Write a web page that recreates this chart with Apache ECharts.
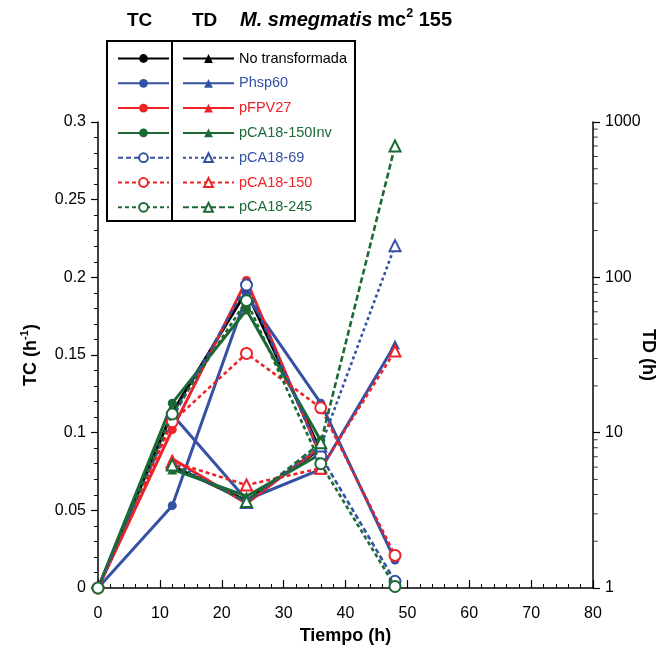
<!DOCTYPE html>
<html>
<head>
<meta charset="utf-8">
<script src="https://cdn.jsdelivr.net/npm/echarts@6/dist/echarts.min.js"></script>
<style>
html, body { margin: 0; padding: 0; background: #fff; }
#chart { width: 668px; height: 648px; }
</style>
</head>
<body>
<div id="chart"></div>
<script>
// Tiempo de muestreo (h)
const hours = [0, 12, 24, 36, 48];

const strains = ['No transformada', 'Phsp60', 'pFPV27', 'pCA18-150Inv', 'pCA18-69', 'pCA18-150', 'pCA18-245'];

// Tasa de crecimiento, TC (h^-1)
const tcNoTransformada = [0, 0.113, 0.191, 0.088, null];
const tcPhsp60         = [0, 0.053, 0.188, 0.119, 0.018];
const tcPFPV27         = [0, 0.102, 0.198, 0.085, null];
const tcPCA18_150Inv   = [0, 0.119, 0.179, 0.095, null];
const tcPCA18_69       = [0, 0.109, 0.195, 0.085, 0.0043];
const tcPCA18_150      = [0, 0.107, 0.151, 0.116, 0.021];
const tcPCA18_245      = [0, 0.112, 0.185, 0.080, 0.001];

// Tiempo de duplicación, TD (h)
const tdNoTransformada = [null, 6.1, 3.65, 7.9, null];
const tdPhsp60         = [null, 13.1, 3.7, 5.8, 37];
const tdPFPV27         = [null, 6.8, 3.5, 8.1, null];
const tdPCA18_150Inv   = [null, 5.8, 3.9, 7.3, null];
const tdPCA18_69       = [null, 6.4, 3.55, 8.2, 160];
const tdPCA18_150      = [null, 6.5, 4.6, 5.9, 33.5];
const tdPCA18_245      = [null, 6.2, 3.6, 8.6, 700];

// Ejes
const xTickLabels = [0, 10, 20, 30, 40, 50, 60, 70, 80];
const tcTickLabels = [0, 0.05, 0.1, 0.15, 0.2, 0.25, 0.3];
const tdTickLabels = [1, 10, 100, 1000];
const tdMinorTicks = [2, 3, 4, 5, 6, 7, 8, 9, 20, 30, 40, 50, 60, 70, 80, 90, 200, 300, 400, 500, 600, 700, 800, 900];

const tcData = [tcNoTransformada, tcPhsp60, tcPFPV27, tcPCA18_150Inv, tcPCA18_69, tcPCA18_150, tcPCA18_245];
const tdData = [tdNoTransformada, tdPhsp60, tdPFPV27, tdPCA18_150Inv, tdPCA18_69, tdPCA18_150, tdPCA18_245];

const BLACK = '#000000';
const BLUE = '#3551a4';
const RED = '#ee2227';
const GREEN = '#1b6a36';
const FONT = '"Liberation Sans", Arial, Helvetica, sans-serif';

const looks = [
  { color: BLACK, filled: true,  tcDash: 'solid', tdDash: 'solid' },
  { color: BLUE,  filled: true,  tcDash: 'solid', tdDash: 'solid' },
  { color: RED,   filled: true,  tcDash: 'solid', tdDash: 'solid' },
  { color: GREEN, filled: true,  tcDash: 'solid', tdDash: 'solid' },
  { color: BLUE,  filled: false, tcDash: [5, 3],  tdDash: [3, 3] },
  { color: RED,   filled: false, tcDash: [4, 3],  tdDash: [4, 3] },
  { color: GREEN, filled: false, tcDash: [4, 3],  tdDash: [6, 3] }
];

function pairs(values) {
  return hours.map((h, i) => [h, values[i] == null ? '-' : values[i]]);
}

const tcNames = strains.map(s => 'TC ' + s);

const series = [];
strains.forEach((name, k) => {
  const lk = looks[k];
  series.push({
    name: tcNames[k],
    type: 'line',
    xAxisIndex: 0,
    yAxisIndex: 0,
    data: pairs(tcData[k]),
    symbol: lk.filled ? 'circle' : 'emptyCircle',
    symbolSize: lk.filled ? 9 : 11,
    showAllSymbol: true,
    itemStyle: { color: lk.color, borderWidth: lk.filled ? 0 : 1.2 },
    lineStyle: { color: lk.color, width: lk.filled ? 3 : 2.6, type: lk.tcDash },
    z: 3 + k
  });
  series.push({
    name: name,
    type: 'line',
    xAxisIndex: 0,
    yAxisIndex: 1,
    data: pairs(tdData[k]),
    symbol: lk.filled ? 'triangle' : 'emptyTriangle',
    symbolSize: lk.filled ? 10 : 11,
    showAllSymbol: true,
    itemStyle: { color: lk.color, borderWidth: lk.filled ? 0 : 1.2 },
    lineStyle: { color: lk.color, width: lk.filled ? 3 : 2.6, type: lk.tdDash },
    z: 3 + k
  });
});

// marcas menores del eje logarítmico TD (2–9 de cada década), sobre el borde derecho
const xEdge = xTickLabels[xTickLabels.length - 1];
series.push({
  name: 'marcas TD',
  type: 'scatter',
  xAxisIndex: 0,
  yAxisIndex: 1,
  data: tdMinorTicks.map(v => [xEdge, v]),
  symbol: 'rect',
  symbolSize: [4, 1],
  symbolOffset: [2.7, 0],
  clip: false,
  silent: true,
  itemStyle: { color: '#000' },
  z: 2
});

const textColors = [BLACK, BLUE, RED, GREEN, BLUE, RED, GREEN];

const legendCommon = {
  orient: 'vertical',
  top: 51,
  itemWidth: 51,
  itemHeight: 11,
  itemGap: 9.8,
  padding: 0,
  selectedMode: false,
  textStyle: { fontSize: 14.5, fontFamily: FONT, color: '#000' }
};

const chart = echarts.init(document.getElementById('chart'), null, { renderer: 'canvas' });

chart.setOption({
  animation: false,
  backgroundColor: '#fff',
  textStyle: { fontFamily: FONT },
  title: [
    { text: 'TC', left: 127, top: 11, padding: 0,
      textStyle: { fontSize: 19, fontWeight: 'bold', color: '#000', fontFamily: FONT } },
    { text: 'TD', left: 192, top: 11, padding: 0,
      textStyle: { fontSize: 19, fontWeight: 'bold', color: '#000', fontFamily: FONT } },
    { text: '{i|M. smegmatis} {b|mc}{s|2}{b| 155}', left: 240, top: 7, padding: 0,
      textStyle: {
        fontFamily: FONT,
        rich: {
          i: { fontSize: 20, fontWeight: 'bold', fontStyle: 'italic', color: '#000', lineHeight: 27, fontFamily: FONT },
          b: { fontSize: 20, fontWeight: 'bold', color: '#000', lineHeight: 27, fontFamily: FONT },
          s: { fontSize: 12.5, fontWeight: 'bold', color: '#000', lineHeight: 16, verticalAlign: 'top', fontFamily: FONT }
        }
      } }
  ],
  legend: [
    Object.assign({}, legendCommon, {
      left: 117,
      data: tcNames.map(n => ({ name: n })),
      formatter: () => ' '
    }),
    Object.assign({}, legendCommon, {
      left: 182,
      data: strains.map((n, k) => ({ name: n, textStyle: { color: textColors[k] } }))
    })
  ],
  graphic: [
    { type: 'rect', z: 100, silent: true,
      shape: { x: 107, y: 41, width: 248, height: 180 },
      style: { fill: null, stroke: '#000', lineWidth: 2 } },
    { type: 'line', z: 100, silent: true,
      shape: { x1: 172, y1: 41, x2: 172, y2: 221 },
      style: { stroke: '#000', lineWidth: 2 } }
  ],
  grid: { left: 98, right: 75, top: 122, bottom: 60, containLabel: false, outerBoundsMode: 'none' },
  xAxis: {
    type: 'value',
    min: xTickLabels[0],
    max: xEdge,
    interval: 10,
    name: 'Tiempo (h)',
    nameLocation: 'middle',
    nameGap: 35,
    nameTextStyle: { fontSize: 18, fontWeight: 'bold', color: '#000', fontFamily: FONT },
    axisLine: { show: true, onZero: false, lineStyle: { color: '#000', width: 1.5 } },
    axisTick: { show: true, inside: true, length: 8, lineStyle: { color: '#000', width: 1.2 } },
    minorTick: { show: true, splitNumber: 5, length: 4, lineStyle: { color: '#000', width: 1 } },
    axisLabel: { fontSize: 16, color: '#000', margin: 18, fontFamily: FONT },
    splitLine: { show: false }
  },
  yAxis: [
    {
      type: 'value',
      position: 'left',
      min: tcTickLabels[0],
      max: tcTickLabels[tcTickLabels.length - 1],
      interval: 0.05,
      name: '{b|TC (h}{s|-1}{b|)}',
      nameLocation: 'middle',
      nameGap: 55,
      nameTextStyle: {
        fontFamily: FONT,
        rich: {
          b: { fontSize: 18, fontWeight: 'bold', color: '#000', lineHeight: 24, fontFamily: FONT },
          s: { fontSize: 11, fontWeight: 'bold', color: '#000', lineHeight: 15, verticalAlign: 'top', fontFamily: FONT }
        }
      },
      axisLine: { show: true, onZero: false, lineStyle: { color: '#000', width: 1.5 } },
      axisTick: { show: true, inside: false, length: 7, lineStyle: { color: '#000', width: 1.2 } },
      minorTick: { show: true, splitNumber: 5, length: 4, lineStyle: { color: '#000', width: 1 } },
      axisLabel: { fontSize: 16, color: '#000', margin: 12, fontFamily: FONT },
      splitLine: { show: false }
    },
    {
      type: 'log',
      logBase: 10,
      position: 'right',
      min: tdTickLabels[0],
      max: tdTickLabels[tdTickLabels.length - 1],
      name: 'TD (h)',
      nameLocation: 'middle',
      nameRotate: -90,
      nameGap: 46,
      nameMoveOverlap: false,
      nameTextStyle: { fontSize: 18, fontWeight: 'bold', color: '#000', fontFamily: FONT },
      axisLine: { show: true, onZero: false, lineStyle: { color: '#000', width: 1.5 } },
      axisTick: { show: true, inside: false, length: 7, lineStyle: { color: '#000', width: 1.2 } },
      axisLabel: { fontSize: 16, color: '#000', margin: 12, fontFamily: FONT, formatter: v => String(v) },
      splitLine: { show: false }
    }
  ],
  series: series
});
</script>
</body>
</html>
